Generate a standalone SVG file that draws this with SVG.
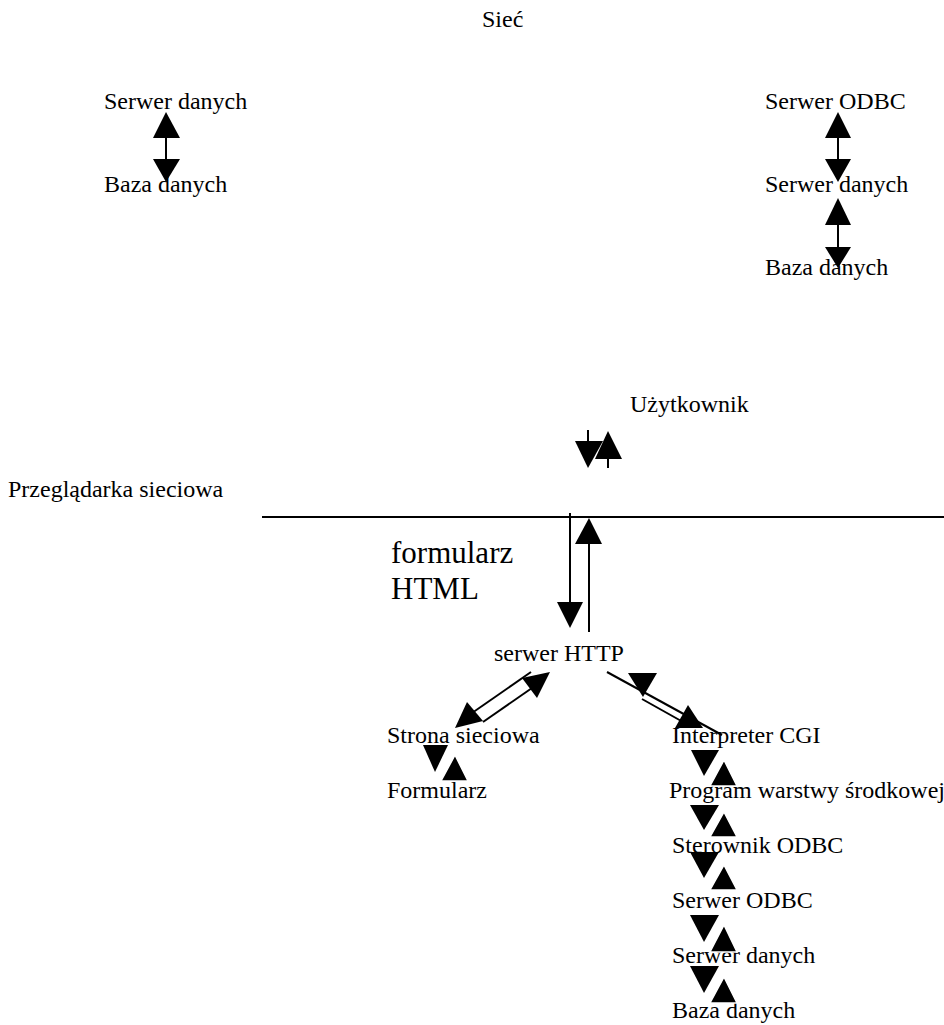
<svg xmlns="http://www.w3.org/2000/svg" width="944" height="1025" viewBox="0 0 944 1025">
  <style>
    text { font-family: "Liberation Serif", "Times New Roman", serif; font-size: 24px; fill: #000; }
    .big { font-size: 31px; }
    .ln { stroke: #000; stroke-width: 2; fill: none; }
    .hd { fill: #000; stroke: none; }
    .hw { fill: #000; stroke: #fff; stroke-width: 1.5; }
  </style>
  <rect width="944" height="1025" fill="#fff"/>

  <!-- labels -->
  <g id="n-siec"><text x="482" y="27">Sieć</text></g>
  <g id="n-serwer-danych-a"><text x="104" y="109">Serwer danych</text></g>
  <g id="n-baza-a"><text x="104" y="192">Baza danych</text></g>
  <g id="n-odbc-b"><text x="765" y="109">Serwer ODBC</text></g>
  <g id="n-serwer-danych-b"><text x="765" y="192">Serwer danych</text></g>
  <g id="n-baza-b"><text x="765" y="275">Baza danych</text></g>
  <g id="n-uzytkownik"><text x="630" y="412">Użytkownik</text></g>
  <g id="n-przegladarka"><text x="8" y="497">Przeglądarka sieciowa</text></g>
  <g id="n-formularz-html"><text class="big" x="391" y="563">formularz</text><text class="big" x="391" y="599">HTML</text></g>
  <g id="n-http"><text x="494" y="661">serwer HTTP</text></g>
  <g id="n-strona"><text x="387" y="743">Strona sieciowa</text></g>
  <g id="n-formularz"><text x="387" y="798">Formularz</text></g>
  <g id="n-cgi"><text x="672" y="743">Interpreter CGI</text></g>
  <g id="n-program"><text x="669" y="798">Program warstwy środkowej</text></g>
  <g id="n-sterownik"><text x="672" y="853">Sterownik ODBC</text></g>
  <g id="n-odbc-c"><text x="672" y="908">Serwer ODBC</text></g>
  <g id="n-serwer-danych-c"><text x="672" y="963">Serwer danych</text></g>
  <g id="n-baza-c"><text x="672" y="1018">Baza danych</text></g>

  <g id="connectors">
    <!-- browser boundary -->
    <line class="ln" x1="262" y1="517" x2="944" y2="517"/>

    <!-- left data server pair -->
    <line class="ln" x1="166" y1="136" x2="166" y2="161"/>
    <polygon class="hd" points="153,138 180,138 166,112"/>
    <polygon class="hd" points="153,159 180,159 166,182"/>

    <!-- ODBC / data server / database chain -->
    <line class="ln" x1="838" y1="136" x2="838" y2="161"/>
    <polygon class="hd" points="825,138 851,138 838,112"/>
    <polygon class="hd" points="825,159 851,159 838,182"/>
    <line class="ln" x1="838" y1="223" x2="838" y2="249"/>
    <polygon class="hd" points="825,225 851,225 838,198"/>
    <polygon class="hd" points="825,247 851,247 838,268"/>

    <!-- user arrows -->
    <line class="ln" x1="588" y1="430" x2="588" y2="443"/>
    <polygon class="hd" points="575,441 603,441 588,468"/>
    <line class="ln" x1="608" y1="457" x2="608" y2="468"/>
    <polygon class="hd" points="595,459 622,459 608,431"/>

    <!-- boundary to HTTP server -->
    <line class="ln" x1="570" y1="513" x2="570" y2="604"/>
    <polygon class="hd" points="557,602 583,602 570,628"/>
    <line class="ln" x1="589" y1="632" x2="589" y2="542"/>
    <polygon class="hd" points="575,544 602,544 589,518"/>

    <!-- HTTP server to web page -->
    <line class="ln" x1="531" y1="672" x2="472" y2="713"/>
    <polygon class="hd" points="455,728 467,702 483,721"/>
    <line class="ln" x1="483" y1="722" x2="532" y2="688"/>
    <polygon class="hd" points="550,672 522,678 537,698"/>

    <!-- HTTP server to CGI -->
    <line class="ln" x1="607" y1="672" x2="722" y2="735"/>
    <line class="ln" x1="642" y1="699" x2="683" y2="722"/>
    <polygon class="hd" points="628,673 657,673 643,697"/>
    <polygon class="hd" points="688,705 675,728 703,728"/>

    <!-- web page to form -->
    <polygon class="hd" points="423,745 448,745 435,772"/>
    <polygon class="hw" points="441,781 468,781 455,755"/>

    <!-- CGI chain -->
    <polygon class="hd" points="691,750 719,750 704,776"/>
    <polygon class="hw" points="710,786 737,786 724,760"/>
    <polygon class="hd" points="690,805 719,805 704,830"/>
    <polygon class="hw" points="710,837 737,837 724,812"/>
    <polygon class="hd" points="690,852 719,852 704,878"/>
    <polygon class="hw" points="710,890 737,890 724,865"/>
    <polygon class="hd" points="690,915 719,915 704,942"/>
    <polygon class="hw" points="710,952 737,952 724,925"/>
    <polygon class="hd" points="690,966 719,966 704,993"/>
    <polygon class="hw" points="710,1003 737,1003 724,977"/>
  </g>
</svg>
